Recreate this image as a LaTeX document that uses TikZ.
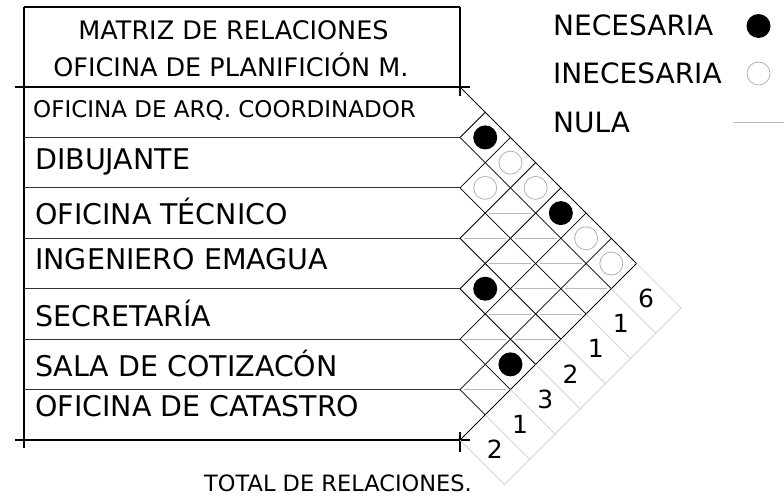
\documentclass[tikz,border=0pt]{standalone}
\usepackage{fontspec}
\setmainfont{DejaVu Sans}
\usepackage{tikz}
\usetikzlibrary{calc}

\tikzset{
  tabla/.style={line width=1.4pt},
  fila/.style={line width=1pt, black!80},
  rejilla/.style={line width=0.8pt},
  nula/.style={line width=0.8pt, gray!55},
  total/.style={line width=0.7pt, gray!40},
  necesaria/.style={circle, fill=black, inner sep=0pt, minimum size=24pt},
  innecesaria/.style={circle, draw=gray!60, line width=0.8pt, inner sep=0pt, minimum size=23pt},
  etiqueta/.style={anchor=base west, inner sep=0pt, font=\fontsize{28.5}{30}\selectfont},
  leyenda/.style={anchor=base west, inner sep=0pt, font=\fontsize{28}{30}\selectfont},
  titulo/.style={anchor=base, inner sep=0pt, font=\fontsize{25.5}{28}\selectfont},
  cifra/.style={inner sep=0pt, font=\fontsize{25}{27}\selectfont},
}

\begin{document}
\begin{tikzpicture}[x=1pt, y=-1pt]
  \useasboundingbox (0,0) rectangle (784,496);
  \def\alto{50.43}
  \def\medio{25.215}

  % marco de la tabla
  \draw[tabla] (24,7) -- (460,7);
  \draw[tabla] (24,7) -- (24,448);
  \draw[tabla] (460,7) -- (460,96);
  \draw[tabla] (15,87) -- (470,87);
  \draw[tabla] (15,440) -- (470,440);
  \draw[tabla] (460,432) -- (460,452);

  \node[titulo] (tit1) at (233.5,39.5) {MATRIZ DE RELACIONES};
  \node[titulo] (tit2) at (231,76) {OFICINA DE PLANIFICIÓN M.};

  % filas
  \foreach \k in {0,...,7}
    \coordinate (b\k) at (460,{87+\k*\alto});
  \foreach \k in {1,...,6}
    \draw[fila] (24,{87+\k*\alto}) -- (b\k);

  \node[anchor=base west, inner sep=0pt, font=\fontsize{23}{25}\selectfont] (f1) at (33,117) {OFICINA DE ARQ. COORDINADOR};
  \foreach \k/\y/\txt in {2/169.5/DIBUJANTE, 3/224/OFICINA TÉCNICO, 4/269/INGENIERO EMAGUA,
      5/326.5/SECRETARÍA, 6/376.5/SALA DE COTIZACÓN, 7/416.5/OFICINA DE CATASTRO}
    \node[etiqueta] (f\k) at (35,\y) {\txt};

  % rejilla
  \foreach \k in {0,...,7} {
    \draw[rejilla] (b\k) -- ++({(7-\k)*\medio},{(7-\k)*\medio});
    \draw[rejilla] (b\k) -- ++({\k*\medio},{-\k*\medio});
  }

  % relaciones
  \foreach \i/\j in {1/2,1/5,4/5,5/7}
    \node[necesaria] (c\i\j) at ({460+(\j-\i)*\medio},{87+(\i+\j-1)*\medio}) {};
  \foreach \i/\j in {1/3,2/3,1/4,1/6,1/7}
    \node[innecesaria] (c\i\j) at ({460+(\j-\i)*\medio},{87+(\i+\j-1)*\medio}) {};
  \foreach \i/\j in {2/4,2/5,2/6,2/7,3/4,3/5,3/6,3/7,4/6,4/7,5/6,6/7} {
    \coordinate (c\i\j) at ({460+(\j-\i)*\medio},{87+(\i+\j-1)*\medio});
    \draw[nula] (c\i\j) +(-21,0) -- +(21,0);
  }

  % total de relaciones
  \foreach \m in {0,...,7}
    \draw[total] ($(b7)+({\m*\medio},{-\m*\medio})$) -- ++(44.5,44.5);
  \draw[total] ($(b7)+(44.5,44.5)$) -- ++({7*\medio},{-7*\medio});
  \foreach \m/\n in {0/2,1/1,2/3,3/2,4/1,5/1,6/6}
    \node[cifra] (t\m) at ($(b7)+({(\m+0.5)*\medio+22.25},{-(\m+0.5)*\medio+22.25})$) {\n};
  \node[anchor=base, inner sep=0pt, font=\fontsize{22.5}{25}\selectfont] (tot) at (338,491.5) {TOTAL DE RELACIONES.};

  % leyenda
  \node[leyenda] (nec) at (553,35) {NECESARIA};
  \node[necesaria] (nec-c) at (758.5,26) {};
  \node[leyenda] (inn) at (553,83) {INECESARIA};
  \node[innecesaria] (inn-c) at (758.5,73.5) {};
  \node[leyenda] (nul) at (553,132) {NULA};
  \coordinate (nul-a) at (733,122);
  \coordinate (nul-b) at (784,122);
  \draw[nula] (nul-a) -- (nul-b);
\end{tikzpicture}
\end{document}
